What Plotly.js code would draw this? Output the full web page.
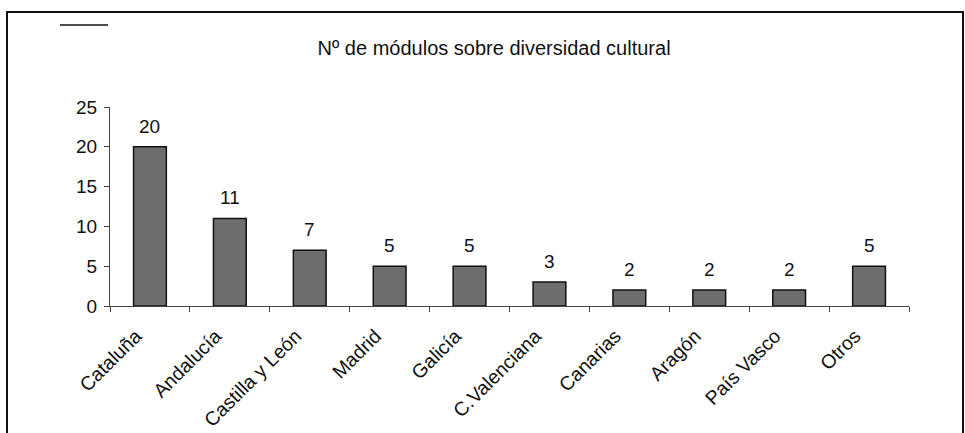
<!DOCTYPE html>
<html>
<head>
<meta charset="utf-8">
<script src="https://cdn.plot.ly/plotly-3.0.1.min.js"></script>
<style>html,body{margin:0;padding:0;background:#fff;}#chart{width:965px;height:433px;}</style>
</head>
<body>
<div id="chart"></div>
<script>
var categories = ["Cataluña","Andalucía","Castilla y León","Madrid","Galicía","C.Valenciana","Canarias","Aragón","País Vasco","Otros"];
var values = [20, 11, 7, 5, 5, 3, 2, 2, 2, 5];
var yTicks = [0, 5, 10, 15, 20, 25];

var L = 110, R = 909, T = 107, B = 306, W = 965, H = 433;
function px(x){ return (x - L) / (R - L); }
function py(y){ return (B - y) / (B - T); }
var FONT = 'Liberation Sans, Arial, sans-serif';

var trace = {
  type: 'bar',
  x: categories,
  y: values,
  marker: {color: '#6e6e6e', line: {color: '#111', width: 1.5}},
  hoverinfo: 'none'
};

var valueLabels = categories.map(function(c, i){
  return {x: c, y: values[i], xref: 'x', yref: 'y', text: String(values[i]), showarrow: false,
          yanchor: 'bottom', yshift: 8, font: {family: FONT, size: 19, color: '#111'}};
});

var layout = {
  width: W, height: H,
  margin: {l: L, r: W - R, t: T, b: H - B},
  paper_bgcolor: '#fff', plot_bgcolor: '#fff',
  showlegend: false,
  bargap: 0.59,
  font: {family: FONT, color: '#111'},
  title: {text: 'Nº de módulos sobre diversidad cultural', x: 0.512, xanchor: 'center', y: 1 - 48/H, yanchor: 'middle',
          font: {size: 20, color: '#111', family: FONT}},
  xaxis: {
    type: 'category',
    tickangle: -45,
    tickfont: {size: 19.5, color: '#111'},
    ticklabelshift: -14,
    ticklabelstandoff: 10,
    showline: true, linecolor: '#444', linewidth: 1,
    ticks: 'outside', tickson: 'boundaries', ticklen: 5, tickcolor: '#444',
    showgrid: false, zeroline: false,
    automargin: false
  },
  yaxis: {
    range: [0, 25],
    tickvals: yTicks,
    tickfont: {size: 19, color: '#111'},
    ticklabelstandoff: 3,
    showline: true, linecolor: '#444', linewidth: 1,
    ticks: 'outside', ticklen: 5, tickcolor: '#444',
    showgrid: false, zeroline: false,
    automargin: false
  },
  annotations: valueLabels,
  shapes: [
    {type: 'rect', xref: 'paper', yref: 'paper', x0: px(7), x1: px(963), y0: py(445), y1: py(12),
     line: {color: '#111', width: 2}, fillcolor: 'rgba(0,0,0,0)'},
    {type: 'line', xref: 'paper', yref: 'paper', x0: px(60), x1: px(108), y0: py(25), y1: py(25),
     line: {color: '#111', width: 1.6}}
  ]
};

Plotly.newPlot('chart', [trace], layout, {staticPlot: true, displayModeBar: false});
</script>
</body>
</html>
